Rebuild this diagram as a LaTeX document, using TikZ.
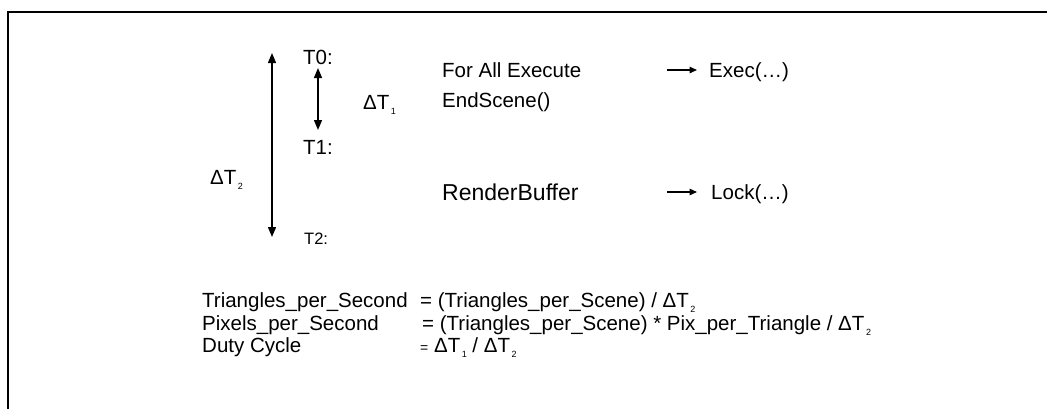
\documentclass[tikz,border=0pt]{standalone}
\usepackage{fontspec}
\setmainfont{Liberation Sans}
\usetikzlibrary{arrows.meta}
\newcommand{\dtime}[1]{ΔT\kern1.5pt\raisebox{-0.55ex}{\fontsize{9}{9}\selectfont #1}}
\begin{document}
\begin{tikzpicture}[x=1pt,y=-1pt,
	txt/.style={anchor=base west,inner sep=0pt,font=\fontsize{20.5}{25}\selectfont},
	small/.style={txt,font=\fontsize{16.5}{19}\selectfont},
	big/.style={txt,font=\fontsize{23}{27}\selectfont},
	span/.style={{Triangle[width=8pt,length=10pt]}-{Triangle[width=8pt,length=10pt]},line width=1.4pt},
	call/.style={-{Triangle[width=6.5pt,length=7.5pt]},line width=1.3pt}]
		\useasboundingbox (0,0) rectangle (1047,408);
		\draw[line width=2pt] (7.5,420) |- (1060,11.5);
		% time marks
		\node[txt] (t0) at (303,64) {T0:};
		\node[txt] (t1) at (303,154) {T1:};
		\node[small] (t2) at (304,244) {T2:};
		\coordinate (a0) at (272,53);
		\coordinate (a2) at (272,237);
		\coordinate (b0) at (318,68);
		\coordinate (b1) at (318,130);
		\draw[span] (a0) -- (a2);
		\draw[span] (b0) -- (b1);
		\node[txt] (dt2) at (210,184) {\dtime{2}};
		\node[txt] (dt1) at (363,109) {\dtime{1}};
		% calls
		\node[txt] (exe) at (442,77) {For All Execute};
		\node[txt] (end) at (442,107) {EndScene()};
		\node[big] (rb) at (442,200) {RenderBuffer};
		\node[txt] (exec) at (709,77) {Exec(…)};
		\node[txt] (lock) at (711,199) {Lock(…)};
		\coordinate (c0) at (667,70);
		\coordinate (c1) at (697,70);
		\coordinate (d0) at (667,192);
		\coordinate (d1) at (697,192);
		\draw[call] (c0) -- (c1);
		\draw[call] (d0) -- (d1);
		% formulas
		\node[txt] (tps) at (202,307) {Triangles\_per\_Second};
		\node[txt] (pps) at (202,330) {Pixels\_per\_Second};
		\node[txt] (duty) at (202,352) {Duty Cycle};
		\node[txt] (tpsf) at (420,307) {= (Triangles\_per\_Scene) / \dtime{2}};
		\node[txt] (ppsf) at (422,330) {= (Triangles\_per\_Scene) * Pix\_per\_Triangle / \dtime{2}};
		\node[txt] (dutyf) at (420,352) {{\fontsize{14}{14}\selectfont =} \dtime{1} / \dtime{2}};
	\end{tikzpicture}
\end{document}
